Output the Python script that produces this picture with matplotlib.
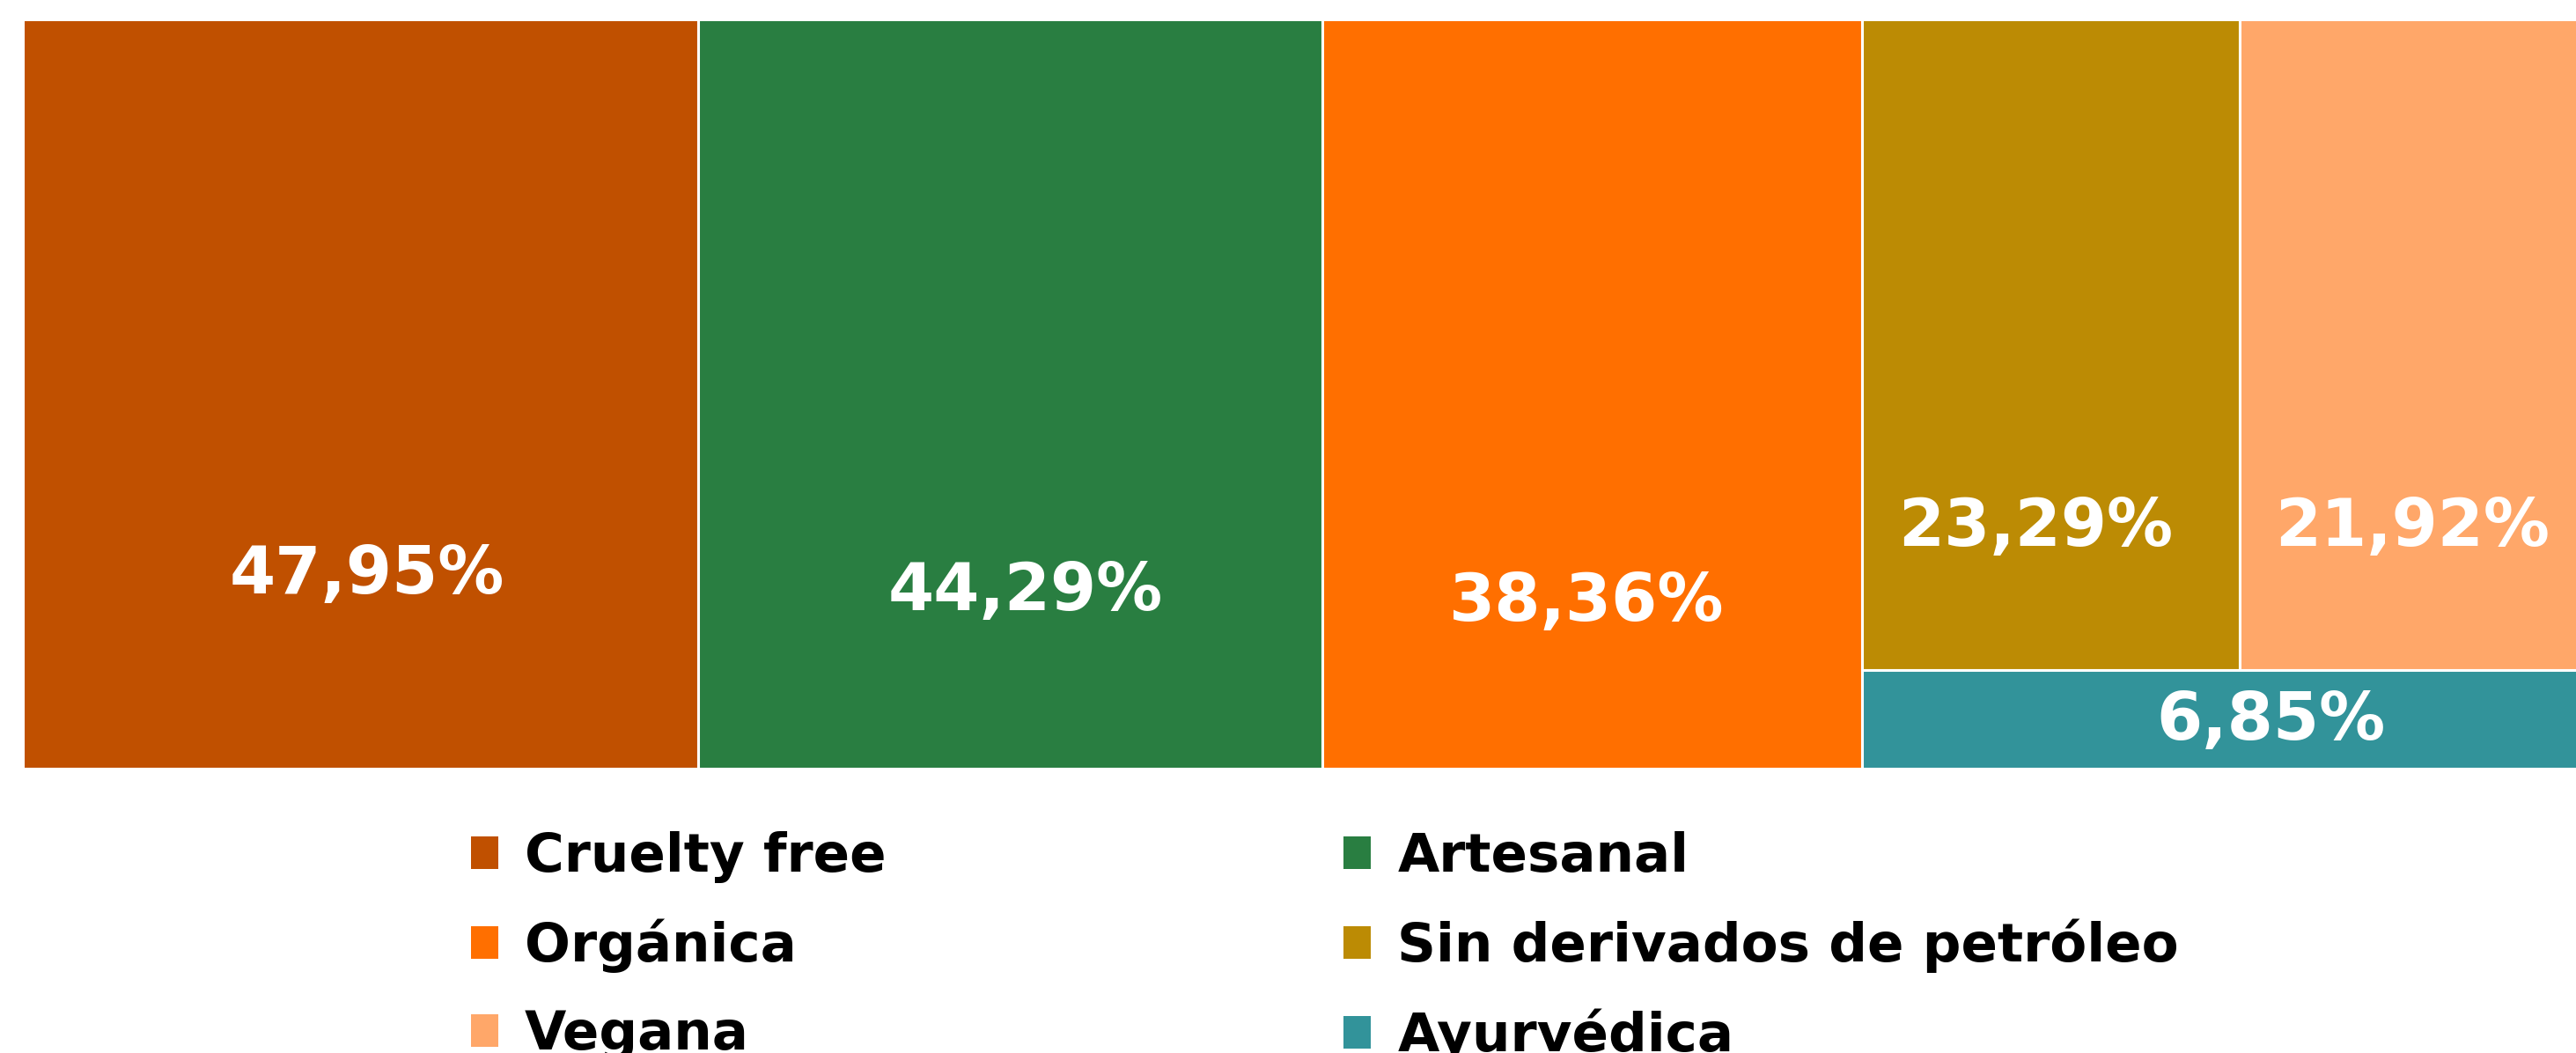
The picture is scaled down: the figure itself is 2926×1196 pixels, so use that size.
import numpy as np
import matplotlib
matplotlib.use("Agg")
import matplotlib.pyplot as plt
from matplotlib.patches import Rectangle, Patch

# Data
categories = ["Cruelty free", "Artesanal", "Orgánica", "Sin derivados de petróleo", "Vegana", "Ayurvédica"]
values = [47.95, 44.29, 38.36, 23.29, 21.92, 6.85]
labels = ["47,95%", "44,29%", "38,36%", "23,29%", "21,92%", "6,85%"]
colors = ["#C05000", "#297E41", "#FF6F00", "#BC8B04", "#FFA769", "#32939A"]

# label placement inside each cell (fraction of cell width / height from top)
label_fx = [0.51, 0.525, 0.49, 0.46, 0.486, 0.558]
label_fy = [0.742, 0.764, 0.779, 0.781, 0.781, 0.52]


def worst(row, w):
    s = sum(row)
    return max(max(w * w * r / (s * s), (s * s) / (w * w * r)) for r in row)


def layout_row(row, x, y, dx, dy):
    s = sum(row)
    rects = []
    if dx >= dy:
        w = s / dy
        yy = y
        for r in row:
            h = r / w
            rects.append((x, yy, w, h))
            yy += h
        return rects, (x + w, y, dx - w, dy)
    else:
        h = s / dx
        xx = x
        for r in row:
            w = r / h
            rects.append((xx, y, w, h))
            xx += w
        return rects, (x, y + h, dx, dy - h)


def squarify(areas, x, y, dx, dy):
    rects = []
    areas = list(areas)
    while areas:
        side = min(dx, dy)
        row = [areas.pop(0)]
        while areas and worst(row + [areas[0]], side) <= worst(row, side):
            row.append(areas.pop(0))
        r, (x, y, dx, dy) = layout_row(row, x, y, dx, dy)
        rects += r
    return rects


W, H = 2922.0, 851.0
vals = np.array(values)
areas = vals / vals.sum() * W * H
rects = squarify(areas, 0, 0, W, H)

fig = plt.figure(figsize=(29.26, 11.96), dpi=100)
ax = fig.add_axes([26 / 2926, (1196 - 873) / 1196, W / 2926, H / 1196])
ax.set_xlim(0, W)
ax.set_ylim(H, 0)
ax.axis("off")

for i, (x, y, w, h) in enumerate(rects):
    ax.add_patch(Rectangle((x, y), w, h, facecolor=colors[i], edgecolor="white", linewidth=2.2))
    ax.text(x + w * label_fx[i], y + h * label_fy[i], labels[i], ha="center", va="center",
            color="white", fontsize=54, fontweight="bold", family="DejaVu Sans")

# legend, row order: fill column-wise so rows read pairwise
order = [0, 2, 4, 1, 3, 5]
handles = [Patch(facecolor=colors[i], edgecolor="none") for i in order]
fig.legend(handles, [categories[i] for i in order], ncol=2, loc="upper left",
           bbox_to_anchor=(535 / 2926, 1 - 944 / 1196), frameon=False,
           prop={"family": "DejaVu Sans", "weight": "bold", "size": 44},
           handlelength=0.5, handleheight=0.55, handletextpad=0.5,
           columnspacing=8.5, labelspacing=0.665, borderpad=0, borderaxespad=0)

fig.savefig("out.png", dpi=100)
